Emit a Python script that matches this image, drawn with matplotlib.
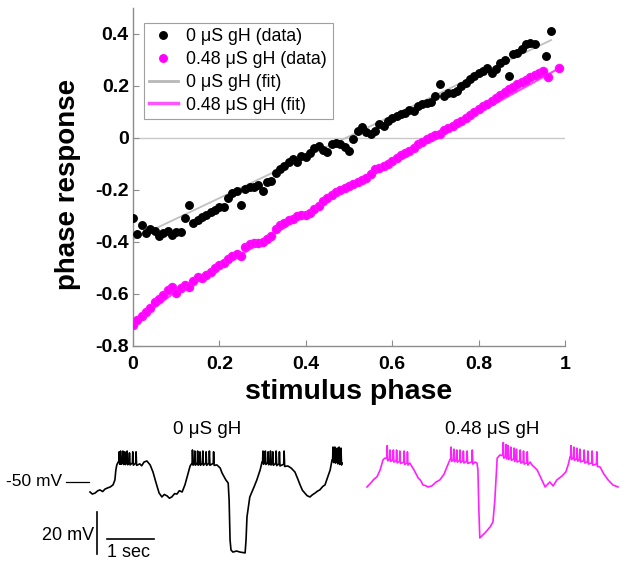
import numpy as np
import matplotlib
matplotlib.use("Agg")
import matplotlib.pyplot as plt
from matplotlib.lines import Line2D

plt.rcParams['font.family'] = ['Liberation Sans', 'DejaVu Sans']

# ---------------- phase response data ----------------
x_ctrl = [0.00, 0.01, 0.02, 0.03, 0.04, 0.05, 0.06, 0.07, 0.08, 0.09,
          0.10, 0.11, 0.12, 0.13, 0.14, 0.15, 0.16, 0.17, 0.18, 0.19,
          0.20, 0.21, 0.22, 0.23, 0.24, 0.25, 0.26, 0.27, 0.28, 0.29,
          0.30, 0.31, 0.32, 0.33, 0.34, 0.35, 0.36, 0.37, 0.38, 0.39,
          0.40, 0.41, 0.42, 0.43, 0.44, 0.45, 0.46, 0.47, 0.48, 0.49,
          0.50, 0.51, 0.52, 0.53, 0.54, 0.55, 0.56, 0.57, 0.58, 0.59,
          0.60, 0.61, 0.62, 0.63, 0.64, 0.65, 0.66, 0.67, 0.68, 0.69,
          0.70, 0.71, 0.72, 0.73, 0.74, 0.75, 0.76, 0.77, 0.78, 0.79,
          0.80, 0.81, 0.82, 0.83, 0.84, 0.85, 0.86, 0.87, 0.88, 0.89,
          0.90, 0.91, 0.92, 0.93, 0.955, 0.968]
y_ctrl = [-0.31, -0.37, -0.335, -0.365, -0.35, -0.36, -0.378, -0.367, -0.36, -0.372,
          -0.363, -0.362, -0.31, -0.26, -0.328, -0.315, -0.305, -0.298, -0.287, -0.276,
          -0.268, -0.266, -0.23, -0.214, -0.206, -0.26, -0.196, -0.19, -0.19, -0.18,
          -0.206, -0.172, -0.165, -0.135, -0.122, -0.11, -0.095, -0.08, -0.095, -0.069,
          -0.076, -0.06, -0.038, -0.032, -0.046, -0.056, -0.024, -0.019, -0.023, -0.034,
          -0.05, -0.004, 0.027, 0.04, 0.02, 0.015, 0.027, 0.053, 0.046, 0.065,
          0.076, 0.084, 0.092, 0.096, 0.105, 0.103, 0.12, 0.13, 0.133, 0.136,
          0.16, 0.206, 0.16, 0.17, 0.172, 0.18, 0.199, 0.21, 0.225, 0.237,
          0.25, 0.256, 0.267, 0.248, 0.264, 0.287, 0.30, 0.237, 0.321, 0.325,
          0.34, 0.359, 0.363, 0.359, 0.313, 0.409]

x_gh = [0.00, 0.01, 0.02, 0.03, 0.04, 0.05, 0.06, 0.07, 0.08, 0.09,
        0.10, 0.11, 0.12, 0.13, 0.14, 0.15, 0.16, 0.17, 0.18, 0.19,
        0.20, 0.21, 0.22, 0.23, 0.24, 0.25, 0.26, 0.27, 0.28, 0.29,
        0.30, 0.31, 0.32, 0.33, 0.34, 0.35, 0.36, 0.37, 0.38, 0.39,
        0.40, 0.41, 0.42, 0.43, 0.44, 0.45, 0.46, 0.47, 0.48, 0.49,
        0.50, 0.51, 0.52, 0.53, 0.54, 0.55, 0.56, 0.57, 0.58, 0.59,
        0.60, 0.61, 0.62, 0.63, 0.64, 0.65, 0.66, 0.67, 0.68, 0.69,
        0.70, 0.71, 0.72, 0.73, 0.74, 0.75, 0.76, 0.77, 0.78, 0.79,
        0.80, 0.81, 0.82, 0.83, 0.84, 0.85, 0.86, 0.87, 0.88, 0.89,
        0.90, 0.91, 0.92, 0.93, 0.94, 0.95, 0.96, 0.987]
y_gh = [-0.718, -0.70, -0.683, -0.67, -0.655, -0.632, -0.618, -0.605, -0.585, -0.574,
        -0.596, -0.578, -0.566, -0.572, -0.55, -0.536, -0.538, -0.528, -0.515, -0.502,
        -0.49, -0.48, -0.466, -0.455, -0.446, -0.455, -0.42, -0.41, -0.405, -0.405,
        -0.40, -0.388, -0.376, -0.35, -0.336, -0.328, -0.318, -0.312, -0.302, -0.296,
        -0.298, -0.288, -0.272, -0.262, -0.244, -0.232, -0.222, -0.21, -0.202, -0.194,
        -0.186, -0.176, -0.17, -0.163, -0.153, -0.138, -0.12, -0.115, -0.108, -0.10,
        -0.088, -0.078, -0.068, -0.058, -0.05, -0.04, -0.026, -0.016, -0.006, 0.002,
        0.01, 0.016, 0.028, 0.036, 0.046, 0.056, 0.066, 0.077, 0.087, 0.10,
        0.11, 0.12, 0.13, 0.142, 0.152, 0.163, 0.175, 0.186, 0.196, 0.206,
        0.214, 0.223, 0.232, 0.241, 0.25, 0.256, 0.232, 0.266]

fit_ctrl_x = [0.0, 0.968]
fit_ctrl_y = [-0.39, 0.375]
fit_gh_x = [0.0, 0.1, 0.25, 0.5, 0.75, 0.99]
fit_gh_y = [-0.715, -0.59, -0.45, -0.19, 0.05, 0.27]

xticks = [0, 0.2, 0.4, 0.6, 0.8, 1]
xtick_labels = ['0', '0.2', '0.4', '0.6', '0.8', '1']
yticks = [-0.8, -0.6, -0.4, -0.2, 0, 0.2, 0.4]
ytick_labels = ['-0.8', '-0.6', '-0.4', '-0.2', '0', '0.2', '0.4']

legend_labels = ['0 μS gH (data)', '0.48 μS gH (data)', '0 μS gH (fit)', '0.48 μS gH (fit)']

# ---------------- voltage traces (time s, mV) ----------------
ctrl_env_t = [0.00, 0.05, 0.11, 0.16, 0.21, 0.27, 0.32, 0.38, 0.43, 0.49, 0.53, 0.55, 0.57, 0.60, 0.99,
              1.06, 1.10, 1.15, 1.21, 1.28, 1.34, 1.40, 1.47, 1.53, 1.58, 1.64, 1.69, 1.74, 1.80, 1.85, 1.90, 1.96,
              2.02, 2.09, 2.13, 2.17, 2.64, 2.70, 2.77, 2.81, 2.89, 2.94, 2.96, 2.98,
              3.00, 3.04, 3.12, 3.19, 3.30, 3.32, 3.34, 3.40, 3.49, 3.55, 3.62, 3.66, 4.14,
              4.21, 4.28, 4.36, 4.42, 4.47, 4.52, 4.57, 4.62, 4.68, 4.73, 4.79, 4.84, 4.89, 4.95, 5.00, 5.11, 5.15, 5.36]
ctrl_env_v = [-54.8, -55.8, -55.3, -54.3, -53.8, -54.6, -53.4, -52.8, -52.4, -51.4, -49.0, -44.2, -41.8, -40.4, -41.0,
              -41.3, -42.2, -40.4, -39.9, -41.8, -45.2, -50.0, -55.3, -57.2, -56.0, -56.7, -57.8, -57.2, -55.6, -55.8, -54.2, -54.8,
              -51.4, -45.7, -42.3, -40.9, -41.0, -41.8, -43.3, -45.7, -49.0, -50.5, -58.7, -77.9,
              -82.7, -83.7, -83.2, -83.7, -84.1, -77.9, -66.8, -57.2, -52.4, -49.0, -44.2, -40.4, -41.5,
              -42.3, -43.3, -45.2, -48.5, -51.4, -54.0, -55.3, -56.6, -57.2, -56.2, -55.3, -54.4, -53.8, -52.2, -51.4, -44.2, -39.4, -40.9]
ctrl_spike_t = [0.62, 0.65, 0.70, 0.74, 0.79, 0.84, 0.91, 0.98,
                2.18, 2.23, 2.29, 2.34, 2.40, 2.47, 2.54, 2.63,
                3.68, 3.73, 3.79, 3.84, 3.89, 3.96, 4.03, 4.13,
                5.17, 5.21, 5.26, 5.30, 5.34]
ctrl_spike_v = [-35.5, -35.1, -35.1, -35.5, -35.1, -36.0, -35.5, -35.5,
                -34.6, -35.1, -35.1, -35.5, -35.1, -35.5, -35.1, -35.5,
                -35.1, -35.1, -35.5, -35.1, -35.5, -35.1, -35.5, -35.1,
                -33.2, -33.2, -33.7, -33.2, -33.7]

gh_env_t = [0.00, 0.06, 0.15, 0.21, 0.28, 0.34, 0.38, 0.87, 0.91, 1.00, 1.09, 1.14, 1.19,
            1.25, 1.30, 1.38, 1.47, 1.55, 1.64, 1.70, 1.77, 2.25, 2.30, 2.34, 2.36, 2.38,
            2.40, 2.51, 2.62, 2.68, 2.72, 2.77, 2.83, 3.42, 3.47, 3.51, 3.62, 3.70,
            3.79, 3.85, 3.89, 3.96, 4.04, 4.15, 4.23, 4.28, 4.32, 4.90, 4.96, 5.04,
            5.13, 5.23, 5.34]
gh_env_v = [-52.4, -51.0, -48.6, -47.6, -44.2, -39.4, -38.5, -40.9, -40.9, -44.2, -48.1, -49.2, -51.4,
            -51.8, -52.4, -51.9, -50.0, -49.0, -46.2, -42.8, -39.0, -40.4, -40.4, -40.9, -44.2, -63.5,
            -76.9, -74.5, -71.6, -69.2, -58.7, -38.5, -37.0, -40.9, -40.4, -41.8, -44.2, -48.1,
            -52.4, -51.0, -50.0, -51.9, -49.0, -47.1, -45.2, -41.8, -38.0, -41.5, -42.8, -46.2,
            -49.0, -51.4, -52.4]
gh_spike_t = [0.43, 0.49, 0.56, 0.63, 0.70, 0.79, 0.86,
              1.79, 1.85, 1.91, 1.98, 2.05, 2.13, 2.24,
              2.90, 2.96, 3.00, 3.06, 3.13, 3.18, 3.26, 3.33, 3.41,
              4.34, 4.40, 4.47, 4.53, 4.62, 4.70, 4.79, 4.89]
gh_spike_v = [-32.5, -34.6, -34.6, -34.6, -35.1, -35.1, -35.5,
              -33.2, -34.2, -34.6, -34.6, -35.1, -35.1, -34.6,
              -31.0, -32.0, -32.5, -33.2, -33.7, -34.2, -34.6, -35.1, -35.5,
              -32.5, -33.2, -33.7, -34.2, -34.6, -35.1, -35.1, -35.5]


def build_trace(env_t, env_v, spk_t, spk_v):
    pts = list(zip(env_t, env_v))
    for t, v in zip(spk_t, spk_v):
        b0 = float(np.interp(t - 0.008, env_t, env_v))
        b1 = float(np.interp(t + 0.012, env_t, env_v))
        pts += [(t - 0.008, b0), (t, v), (t + 0.012, b1 - 1.0)]
    pts.sort(key=lambda p: p[0])
    return [p[0] for p in pts], [p[1] for p in pts]


W, H = 627, 566
fig = plt.figure(figsize=(W / 100, H / 100), dpi=100)

# ---------------- main axes ----------------
ax = fig.add_axes([133 / W, 1 - 346 / H, 432 / W, 338.5 / H])
ax.axhline(0, color='#c8c8c8', lw=1.0, zorder=1)
ax.plot(fit_ctrl_x, fit_ctrl_y, '-', color='#c0c0c0', lw=1.3, zorder=2)
ax.plot(fit_gh_x, fit_gh_y, '-', color='#ff40ff', lw=1.5, zorder=2)
ax.plot(x_ctrl, y_ctrl, 'o', color='black', ms=5.4, mec='black', zorder=3)
ax.plot(x_gh, y_gh, 'o', color='#ff00ff', ms=5.8, mec='#ff10ff', zorder=3)

ax.set_xlim(0, 1)
ax.set_ylim(-0.8, 0.5)
ax.set_xticks(xticks)
ax.set_xticklabels(xtick_labels)
ax.set_yticks(yticks)
ax.set_yticklabels(ytick_labels)
for s in ['top', 'right']:
    ax.spines[s].set_visible(False)
for s in ['left', 'bottom']:
    ax.spines[s].set_color('#8c8c8c')
    ax.spines[s].set_linewidth(1.0)
ax.tick_params(direction='in', length=4, color='#8c8c8c', labelsize=14)
ax.tick_params(axis='x', pad=7)
ax.tick_params(axis='y', pad=3)
for lab in ax.get_xticklabels() + ax.get_yticklabels():
    lab.set_fontweight('bold')

handles = [
    Line2D([], [], ls='none', marker='o', color='black', ms=5.4),
    Line2D([], [], ls='none', marker='o', color='#ff00ff', ms=5.4),
    Line2D([], [], color='#b8b8b8', lw=2),
    Line2D([], [], color='#ff55ff', lw=2.5),
]
leg = ax.legend(handles, legend_labels, loc='upper left', bbox_to_anchor=(0.025, 0.955),
                fontsize=12.8, frameon=True, fancybox=False, edgecolor='#a0a0a0',
                framealpha=1, borderpad=0.3, handlelength=1.6, handletextpad=0.5,
                labelspacing=0.33, borderaxespad=0)
leg.get_frame().set_linewidth(0.8)

fig.text(68 / W, 1 - 184 / H, 'phase response', rotation=90, ha='center', va='center',
         fontsize=20, fontweight='bold')
fig.text(349 / W, 1 - 392 / H, 'stimulus phase', ha='center', va='center',
         fontsize=20.5, fontweight='bold')

# ---------------- traces ----------------
ylo, yhi = -90.4, -25.0
axb = fig.add_axes([0, 0, 360 / W, 136 / H])
axb.set_xlim(-90 / 47, 270 / 47)
axb.set_ylim(ylo, yhi)
axb.axis('off')
tt, vv = build_trace(ctrl_env_t, ctrl_env_v, ctrl_spike_t, ctrl_spike_v)
axb.plot(tt, vv, color='black', lw=1.2)
axb.plot([-0.51, -0.02], [-50, -50], color='black', lw=0.9)
axb.text(-0.6, -50, '-50 mV', ha='right', va='center', fontsize=12.5)
axb.plot([0.149, 0.149], [-64.4, -84.4], color='black', lw=1.2)
axb.plot([0.36, 1.36], [-77.4, -77.4], color='black', lw=1.2)
axb.text(0.08, -75.5, '20 mV', ha='right', va='center', fontsize=13)
axb.text(0.36, -83.9, '1 sec', ha='left', va='center', fontsize=13)

axm = fig.add_axes([360 / W, 0, 267 / W, 136 / H])
axm.set_xlim(-7 / 47, 260 / 47)
axm.set_ylim(ylo, yhi)
axm.axis('off')
tt, vv = build_trace(gh_env_t, gh_env_v, gh_spike_t, gh_spike_v)
axm.plot(tt, vv, color='#ff20ff', lw=1.2)

fig.text(207 / W, 1 - 430 / H, '0 μS gH', ha='center', va='center', fontsize=13.5)
fig.text(492 / W, 1 - 430 / H, '0.48 μS gH', ha='center', va='center', fontsize=13.5)

fig.savefig('out.png', dpi=100)
